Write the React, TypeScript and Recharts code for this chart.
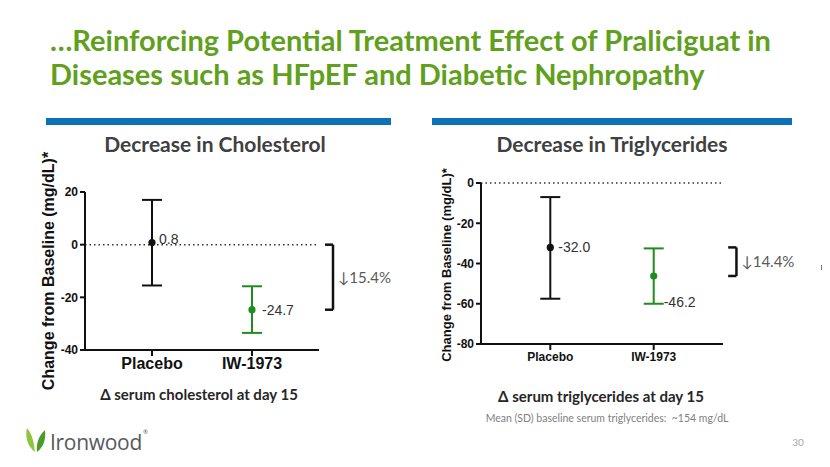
import React from 'react';
import { ScatterChart, Scatter, XAxis, YAxis, ErrorBar, ReferenceLine } from 'recharts';

// shared categories
const GROUPS = ['Placebo', 'IW-1973'];
const GROUP_X = [1, 2];

// cholesterol panel (mg/dL change from baseline)
const CHOL_MEAN = [0.8, -24.7];
const CHOL_LOW = [-15.5, -33.5];
const CHOL_HIGH = [17.0, -15.8];
const CHOL_TICKS = [20, 0, -20, -40];
const CHOL_DROP = '15.4%';

// triglycerides panel
const TG_MEAN = [-32.0, -46.2];
const TG_LOW = [-57.5, -60.0];
const TG_HIGH = [-7.0, -32.5];
const TG_TICKS = [0, -20, -40, -60, -80];
const TG_DROP = '14.4%';

const GREEN_TITLE = '#5fa01c';
const DRUG_GREEN = '#1e8c1e';
const INK = '#111111';
const X_DOMAIN: [number, number] = [0.33, 2.67];

const dotShape = (color: string, dy: number, dx: number, fontSize: number) => (props: any) => {
  const { cx, cy, payload } = props;
  return (
    <g>
      <circle cx={cx} cy={cy} r={3.6} fill={color} />
      <text x={cx + dx} y={cy + dy} dominantBaseline="central" fontSize={fontSize} fill="#333"
        fontFamily="'Liberation Sans', Arial, sans-serif">
        {payload.label}
      </text>
    </g>
  );
};

interface PanelProps {
  means: number[];
  lows: number[];
  highs: number[];
  ticks: number[];
  drop: string;
  width: number;
  height: number;
  margin: { top: number; right: number; bottom: number; left: number };
  catFont: number;
  tickFont: number;
  labelDy: number[];
  labelDx: number[];
  bracketX: [number, number];
}

function Panel(p: PanelProps) {
  const points = GROUP_X.map((x, i) => ({
    x,
    y: p.means[i],
    err: [p.means[i] - p.lows[i], p.highs[i] - p.means[i]],
    label: p.means[i].toFixed(1),
  }));
  const yDomain: [number, number] = [p.ticks[p.ticks.length - 1], p.ticks[0]];
  const [bx0, bx1] = p.bracketX;
  const drug = p.means[1];
  // bracket starts at the zero line when placebo sits above it, else at the placebo mean
  const bracketTop = p.means[0] > 0 ? 0 : p.means[0];

  return (
    <ScatterChart width={p.width} height={p.height} margin={p.margin}>
      <XAxis
        type="number"
        dataKey="x"
        domain={X_DOMAIN}
        ticks={GROUP_X}
        allowDataOverflow
        interval={0}
        tickFormatter={(v: number) => GROUPS[GROUP_X.indexOf(v)]}
        axisLine={{ stroke: INK, strokeWidth: 2 }}
        tickLine={{ stroke: INK, strokeWidth: 2 }}
        tickSize={6}
        tickMargin={2}
        height={30}
        tick={{ fill: INK, fontSize: p.catFont, fontWeight: 700, fontFamily: "'Liberation Sans', Arial, sans-serif" }}
      />
      <YAxis
        type="number"
        dataKey="y"
        domain={yDomain}
        ticks={p.ticks}
        allowDataOverflow
        interval={0}
        width={40}
        axisLine={{ stroke: INK, strokeWidth: 2 }}
        tickLine={{ stroke: INK, strokeWidth: 2 }}
        tickSize={5}
        tickMargin={2}
        tick={{ fill: INK, fontSize: p.tickFont, fontWeight: 700, fontFamily: "'Liberation Sans', Arial, sans-serif" }}
      />
      <ReferenceLine y={0} stroke="#333" strokeWidth={1.5} strokeDasharray="1.5 3" ifOverflow="visible" />
      <Scatter data={[points[0]]} isAnimationActive={false}
        shape={dotShape(INK, p.labelDy[0], p.labelDx[0], 14)}>
        <ErrorBar dataKey="err" direction="y" width={10} stroke={INK} strokeWidth={2} isAnimationActive={false} />
      </Scatter>
      <Scatter data={[points[1]]} isAnimationActive={false}
        shape={dotShape(DRUG_GREEN, p.labelDy[1], p.labelDx[1], 14)}>
        <ErrorBar dataKey="err" direction="y" width={10} stroke={DRUG_GREEN} strokeWidth={2} isAnimationActive={false} />
      </Scatter>
      {/* bracket marking the placebo-adjusted drop */}
      <ReferenceLine
        segment={[{ x: bx1, y: bracketTop }, { x: bx1, y: drug }]}
        stroke={INK}
        strokeWidth={2.5}
        ifOverflow="visible"
        label={{
          value: '\u2193' + p.drop,
          position: 'right',
          offset: 5,
          fill: '#595959',
          fontSize: 15,
          fontFamily: "Lato, 'DejaVu Sans', sans-serif",
        }}
      />
      <ReferenceLine segment={[{ x: bx0, y: bracketTop }, { x: bx1, y: bracketTop }]} stroke={INK} strokeWidth={2.5} ifOverflow="visible" />
      <ReferenceLine segment={[{ x: bx0, y: drug }, { x: bx1, y: drug }]} stroke={INK} strokeWidth={2.5} ifOverflow="visible" />
    </ScatterChart>
  );
}

const abs = (left: number, top: number, extra: React.CSSProperties = {}): React.CSSProperties => ({
  position: 'absolute',
  left,
  top,
  whiteSpace: 'nowrap',
  ...extra,
});

const centered = (cx: number, cy: number, extra: React.CSSProperties = {}): React.CSSProperties => ({
  position: 'absolute',
  left: cx,
  top: cy,
  transform: 'translate(-50%, -50%)',
  whiteSpace: 'nowrap',
  ...extra,
});

const rotated = (cx: number, cy: number, extra: React.CSSProperties = {}): React.CSSProperties => ({
  position: 'absolute',
  left: cx,
  top: cy,
  transform: 'translate(-50%, -50%) rotate(-90deg)',
  whiteSpace: 'nowrap',
  ...extra,
});

const SUB_FONT = "Lato, 'Open Sans', sans-serif";
const ARIAL = "'Liberation Sans', Arial, sans-serif";

export default function App() {
  return (
    <div style={{ position: 'absolute', left: 0, top: 0, width: 830, height: 467, background: '#fff', overflow: 'hidden', fontFamily: SUB_FONT }}>
      <div style={abs(50, 23, { color: GREEN_TITLE, fontSize: 29, fontWeight: 700, lineHeight: '34px' })}>
        <div>…Reinforcing Potential Treatment Effect of Praliciguat in</div>
        <div>Diseases such as HFpEF and Diabetic Nephropathy</div>
      </div>

      <div style={abs(46, 118, { width: 345, height: 7, background: '#0a72b5' })} />
      <div style={abs(432, 118, { width: 360, height: 7, background: '#0a72b5' })} />

      <div style={centered(215, 143, { fontSize: 21, fontWeight: 700, color: '#404040' })}>Decrease in Cholesterol</div>
      <div style={centered(612, 143, { fontSize: 21, fontWeight: 700, color: '#404040' })}>Decrease in Triglycerides</div>

      <div style={abs(0, 160)}>
        <Panel
          means={CHOL_MEAN}
          lows={CHOL_LOW}
          highs={CHOL_HIGH}
          ticks={CHOL_TICKS}
          drop={CHOL_DROP}
          width={420}
          height={240}
          margin={{ top: 32, right: 101, bottom: 20, left: 45 }}
          catFont={16}
          tickFont={12}
          labelDy={[-4, 0]}
          labelDx={[7, 10]}
          bracketX={[2.73, 2.81]}
        />
      </div>
      <div style={abs(420, 160)}>
        <Panel
          means={TG_MEAN}
          lows={TG_LOW}
          highs={TG_HIGH}
          ticks={TG_TICKS}
          drop={TG_DROP}
          width={410}
          height={240}
          margin={{ top: 23, right: 107, bottom: 26, left: 21 }}
          catFont={12}
          tickFont={12}
          labelDy={[0, 26]}
          labelDx={[8, 10]}
          bracketX={[2.72, 2.8]}
        />
      </div>

      <div style={rotated(49, 271, { fontFamily: ARIAL, fontSize: 16, fontWeight: 700, color: INK })}>Change from Baseline (mg/dL)*</div>
      <div style={rotated(446, 265, { fontFamily: ARIAL, fontSize: 13, fontWeight: 700, color: INK })}>Change from Baseline (mg/dL)*</div>

      <div style={centered(199, 394, { fontSize: 15, fontWeight: 700, color: '#262626' })}>Δ serum cholesterol at day 15</div>
      <div style={centered(601, 396, { fontSize: 15, fontWeight: 700, color: '#262626' })}>Δ serum triglycerides at day 15</div>
      <div style={centered(607, 418, { fontSize: 10.5, color: '#7f7f7f' })}>Mean (SD) baseline serum triglycerides:&nbsp; ~154 mg/dL</div>

      <div style={abs(821, 265, { width: 1, height: 5, background: '#777' })} />
      <div style={centered(798, 442, { fontSize: 10, color: '#a6a6a6' })}>30</div>

      <svg style={abs(24, 426)} width={24} height={28} viewBox="0 0 24 28">
        <path d="M3 2 C1 10 3 20 11 26 C10 18 9 9 3 2 Z" fill="#8cc63f" />
        <path d="M21 4 C14 10 12 19 13 26 C20 21 22 12 21 4 Z" fill="#4c9a2a" />
      </svg>
      <div style={abs(50, 428, { fontSize: 21, color: '#58595b', fontFamily: "'Open Sans', sans-serif", letterSpacing: -0.3 })}>
        Ironwood<sup style={{ fontSize: 6, verticalAlign: 'top', marginLeft: 1 }}>®</sup>
      </div>
    </div>
  );
}
